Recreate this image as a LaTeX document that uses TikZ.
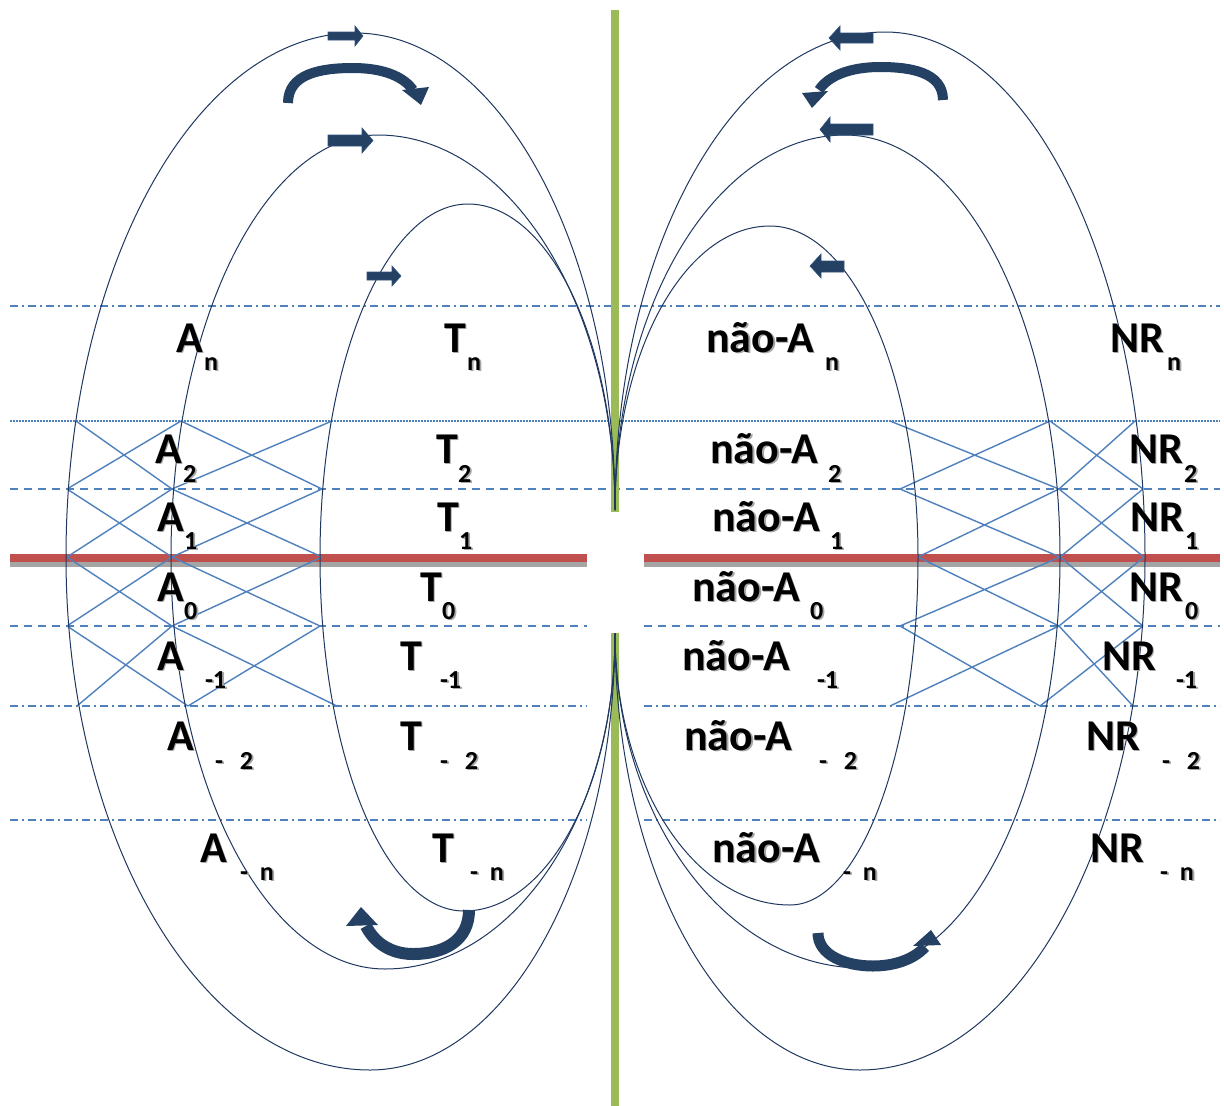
\documentclass[tikz,border=0pt]{standalone}
\usepackage{fontspec}
\setmainfont{Carlito}
\usetikzlibrary{arrows.meta}
\definecolor{navy}{RGB}{36,64,98}
\definecolor{curvec}{RGB}{31,56,96}
\definecolor{lineblue}{RGB}{79,129,189}
\definecolor{redl}{RGB}{192,80,77}
\definecolor{grayl}{RGB}{165,165,165}
\definecolor{greenl}{RGB}{155,187,89}
\newcommand\shd[1]{\makebox[0pt][l]{\hspace{1.8pt}\raisebox{-1.8pt}{\color{black!35}#1}}#1}
\begin{document}
\begin{tikzpicture}[x=1pt,y=-1pt,
  hline/.style={lineblue,line width=1.2pt},
  dashln/.style={hline,dash pattern=on 7.5pt off 6.5pt},
  dashdotln/.style={hline,dash pattern=on 8pt off 4pt on 2pt off 4pt},
  dotln/.style={hline,line width=1.1pt,dash pattern=on 1.5pt off 1.5pt},
  lattice/.style={lineblue,line width=1.4pt},
  curve/.style={curvec,line width=1pt},
  blockarrow/.style={fill=navy,draw=navy!70!lineblue,line width=0.6pt},
  bentarrow/.style={navy,line width=10pt},
  lab/.style={inner sep=0pt,outer sep=0pt,anchor=base west,font=\fontsize{44pt}{50pt}\selectfont\bfseries},
  sublab/.style={inner sep=0pt,outer sep=0pt,anchor=base west,font=\fontsize{26pt}{30pt}\selectfont\bfseries}]
\useasboundingbox (0,0) rectangle (1224,1106);
\fill[white] (0,0) rectangle (1224,1106);

% horizontal guide lines
\draw[dashdotln] (10,306) -- (1220,306);
\draw[dotln] (10,421) -- (1220,421);
\draw[dashln] (10,489) -- (1220,489);
\draw[dashln] (10,626) -- (587,626);
\draw[dashln] (644,626) -- (1220,626);
\draw[dashdotln] (10,706) -- (587,706);
\draw[dashdotln] (644,706) -- (1220,706);
\draw[dashdotln] (10,820) -- (587,820);
\draw[dashdotln] (644,820) -- (1220,820);

% red axis with grey shadow
\fill[grayl] (10,561) rectangle (587,567);
\fill[grayl] (644,561) rectangle (1220,567);
\fill[redl] (10,554) rectangle (587,562);
\fill[redl] (644,554) rectangle (1220,562);

% green axis
\fill[greenl] (611,10) rectangle (619,512);
\fill[greenl] (611,633) rectangle (619,1106);

% lattice
\foreach \n/\x/\y in {a1/76/421,b1/181/421,c1/332/421,
                      a2/67/489,b2/172/489,c2/322/489,
                      a3/67/557,b3/172/557,c3/322/557,
                      a4/67/626,b4/172/626,c4/320/626,
                      a5/77/706,b5/188/706,c5/337/706,
                      p1/890/421,q1/1050/421,r1/1135/421,
                      p2/900/489,q2/1059/489,r2/1143/489,
                      p3/918/557,q3/1060/557,r3/1144/557,
                      p4/900/626,q4/1059/626,r4/1143/626,
                      p5/890/706,q5/1040/706,r5/1133/706}
  {\coordinate (\n) at (\x,\y);}
\foreach \i/\j in {1/2,2/3,3/4,4/5}{
  \draw[lattice] (a\i) -- (b\j) (b\i) -- (a\j) (b\i) -- (c\j) (c\i) -- (b\j);
  \draw[lattice] (p\i) -- (q\j) (q\i) -- (p\j) (q\i) -- (r\j) (r\i) -- (q\j);
}

% loops
\coordinate (ctop) at (615,510);
\coordinate (cbot) at (615,633);
% left outer
\draw[curve] (ctop) .. controls (615,247) and (499,33) .. (355,33)
  .. controls (195,33) and (66,268) .. (66,557)
  .. controls (66,840) and (202,1070) .. (370,1070)
  .. controls (505,1070) and (615,874) .. (cbot);
% left middle
\draw[curve] (ctop) .. controls (615,303) and (509,135) .. (378,135)
  .. controls (264,135) and (171,324) .. (171,557)
  .. controls (171,785) and (267,969) .. (385,969)
  .. controls (512,969) and (615,819) .. (cbot);
% left inner
\draw[curve] (ctop) .. controls (615,341) and (549,204) .. (468,204)
  .. controls (386,204) and (320,362) .. (320,557)
  .. controls (320,753) and (384,911) .. (464,911)
  .. controls (547,911) and (615,787) .. (cbot);
% right outer
\draw[curve] (ctop) .. controls (615,246) and (736,32) .. (885,32)
  .. controls (1029,32) and (1145,267) .. (1145,557)
  .. controls (1145,840) and (1017,1070) .. (860,1070)
  .. controls (725,1070) and (615,874) .. (cbot);
% right middle
\draw[curve] (ctop) .. controls (615,303) and (718,135) .. (845,135)
  .. controls (964,135) and (1060,324) .. (1060,557)
  .. controls (1060,784) and (971,968) .. (862,968)
  .. controls (726,968) and (615,818) .. (cbot);
% right inner
\draw[curve] (ctop) .. controls (615,353) and (684,226) .. (770,226)
  .. controls (852,226) and (918,374) .. (918,557)
  .. controls (918,749) and (861,905) .. (790,905)
  .. controls (693,905) and (615,783) .. (cbot);

% straight block arrows
\path[blockarrow] (328,32) -- (355,32) -- (355,26) -- (363,36) -- (355,46) -- (355,40) -- (328,40) -- cycle;
\path[blockarrow] (328,135) -- (362,135) -- (362,128) -- (373,140.5) -- (362,153) -- (362,146) -- (328,146) -- cycle;
\path[blockarrow] (367,272) -- (392,272) -- (392,266) -- (401,276) -- (392,286) -- (392,280) -- (367,280) -- cycle;
\path[blockarrow] (873,33) -- (840,33) -- (840,26) -- (829,38) -- (840,50) -- (840,43) -- (873,43) -- cycle;
\path[blockarrow] (873,124) -- (830,124) -- (830,117) -- (820,129.5) -- (830,142) -- (830,135) -- (873,135) -- cycle;
\path[blockarrow] (844,261) -- (821,261) -- (821,254) -- (810,266) -- (821,278) -- (821,272) -- (844,272) -- cycle;

% bent arrows
\draw[bentarrow] (288,103) .. controls (288,74) and (320,68) .. (353,68) .. controls (384,68) and (404,77) .. (413,90);
\fill[navy] (402,90) -- (429,87) -- (421,105) -- cycle;
\draw[bentarrow] (943,100) .. controls (943,72) and (910,67) .. (880,67) .. controls (850,67) and (828,76) .. (819,90);
\fill[navy] (802,93) -- (828,91) -- (812,108) -- cycle;
\draw[bentarrow,line width=12pt] (469,910) .. controls (469,940) and (445,954) .. (413,954) .. controls (390,954) and (374,942) .. (366,926);
\fill[navy] (346,926) -- (378,925) -- (361,907) -- cycle;
\draw[bentarrow,line width=11pt] (818,933) .. controls (818,955) and (845,966) .. (873,966) .. controls (895,966) and (914,959) .. (925,947);
\fill[navy] (913,946) -- (941,945) -- (931,930) -- cycle;

% labels
\node[lab] (An) at (176,352) {\shd{A}};
\node[sublab] (Ans) at (204,370) {\shd{n}};
\node[lab] (Tn) at (444,352) {\shd{T}};
\node[sublab] (Tns) at (467,370) {\shd{n}};
\node[lab] (NAn) at (706,352) {\shd{não-A}};
\node[sublab] (NAns) at (825,370) {\shd{n}};
\node[lab] (NRn) at (1110,352) {\shd{NR}};
\node[sublab] (NRns) at (1167,370) {\shd{n}};

\node[lab] (A2) at (155,463) {\shd{A}};
\node[sublab] (A2s) at (183,482) {\shd{2}};
\node[lab] (T2) at (436,463) {\shd{T}};
\node[sublab] (T2s) at (458,482) {\shd{2}};
\node[lab] (NA2) at (710,463) {\shd{não-A}};
\node[sublab] (NA2s) at (828,482) {\shd{2}};
\node[lab] (NR2) at (1129,463) {\shd{NR}};
\node[sublab] (NR2s) at (1184,482) {\shd{2}};

\node[lab] (A1) at (157,531) {\shd{A}};
\node[sublab] (A1s) at (184,549) {\shd{1}};
\node[lab] (T1) at (437,531) {\shd{T}};
\node[sublab] (T1s) at (459,549) {\shd{1}};
\node[lab] (NA1) at (712,531) {\shd{não-A}};
\node[sublab] (NA1s) at (830,549) {\shd{1}};
\node[lab] (NR1) at (1130,531) {\shd{NR}};
\node[sublab] (NR1s) at (1185,549) {\shd{1}};

\node[lab] (A0) at (157,601) {\shd{A}};
\node[sublab] (A0s) at (184,619) {\shd{0}};
\node[lab] (T0) at (420,601) {\shd{T}};
\node[sublab] (T0s) at (442,619) {\shd{0}};
\node[lab] (NA0) at (692,601) {\shd{não-A}};
\node[sublab] (NA0s) at (810,619) {\shd{0}};
\node[lab] (NR0) at (1129,601) {\shd{NR}};
\node[sublab] (NR0s) at (1185,619) {\shd{0}};

\node[lab] (Am1) at (157,670) {\shd{A}};
\node[sublab] (Am1s) at (205,688) {\shd{-1}};
\node[lab] (Tm1) at (400,670) {\shd{T}};
\node[sublab] (Tm1s) at (440,688) {\shd{-1}};
\node[lab] (NAm1) at (682,670) {\shd{não-A}};
\node[sublab] (NAm1s) at (817,688) {\shd{-1}};
\node[lab] (NRm1) at (1102,670) {\shd{NR}};
\node[sublab] (NRm1s) at (1176,688) {\shd{-1}};

\node[lab] (Am2) at (167,750) {\shd{A}};
\node[sublab] (Am2s) at (215,769) {\shd{-\hspace{17pt}2}};
\node[lab] (Tm2) at (400,750) {\shd{T}};
\node[sublab] (Tm2s) at (440,769) {\shd{-\hspace{17pt}2}};
\node[lab] (NAm2) at (684,750) {\shd{não-A}};
\node[sublab] (NAm2s) at (819,769) {\shd{-\hspace{17pt}2}};
\node[lab] (NRm2) at (1086,750) {\shd{NR}};
\node[sublab] (NRm2s) at (1162,769) {\shd{-\hspace{17pt}2}};

\node[lab] (Amn) at (200,862) {\shd{A}};
\node[sublab] (Amns) at (240,880) {\shd{-\hspace{12pt}n}};
\node[lab] (Tmn) at (432,862) {\shd{T}};
\node[sublab] (Tmns) at (470,880) {\shd{-\hspace{12pt}n}};
\node[lab] (NAmn) at (712,862) {\shd{não-A}};
\node[sublab] (NAmns) at (843,880) {\shd{-\hspace{12pt}n}};
\node[lab] (NRmn) at (1090,862) {\shd{NR}};
\node[sublab] (NRmns) at (1160,880) {\shd{-\hspace{12pt}n}};
\end{tikzpicture}
\end{document}
